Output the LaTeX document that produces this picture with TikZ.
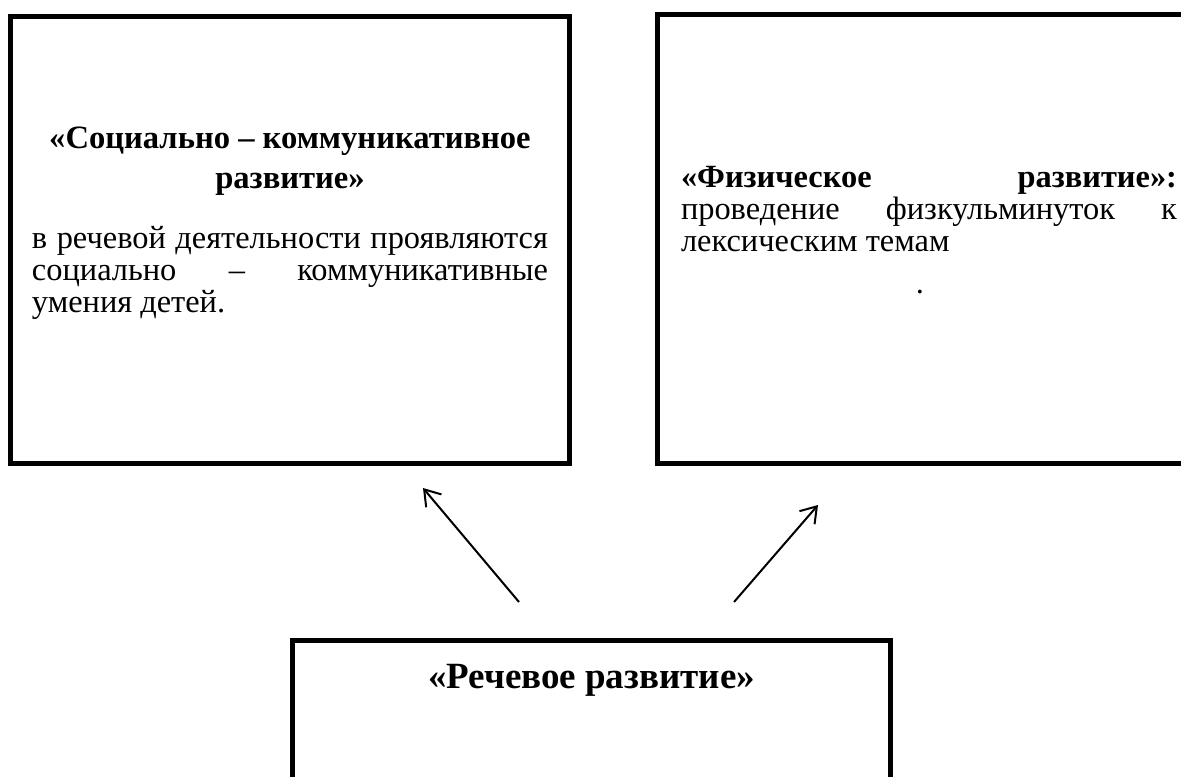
\documentclass[tikz,border=0pt]{standalone}
\usepackage{fontspec}
\setmainfont{Liberation Serif}
\usepackage{tikz}
\usetikzlibrary{arrows.meta}

\begin{document}
\begin{tikzpicture}[x=0.5pt, y=-0.5pt,
    box/.style={draw, line width=2.5pt, rectangle, inner sep=0pt},
    headtext/.style={font=\fontsize{16.3pt}{20pt}\selectfont\bfseries, align=center, inner sep=0pt},
    bodytext/.style={font=\fontsize{16.2pt}{16pt}\selectfont, align=justify, inner sep=0pt},
    link/.style={line width=1pt, -{Straight Barb[length=7.5pt, width=10pt, line width=1pt]}}]
      \useasboundingbox (0, 0) rectangle (1181, 776);

      \node[box, minimum width=279.5pt, minimum height=223.5pt] (soc) at (290, 240) {};
      \node[box, minimum width=274pt, minimum height=224.5pt] (fiz) at (931, 239) {};
      \node[box, minimum width=299pt, minimum height=130pt] (rech) at (591.5, 770) {};

      \node[headtext, anchor=north] (soctitle) at (290, 127) {«Социально – коммуникативное\\развитие»};
      \node[bodytext, text width=258pt, anchor=north] (socbody) at (290, 226)
        {в речевой деятельности проявляются\linebreak социально – коммуникативные\linebreak умения детей.};

      \node[bodytext, text width=248pt, anchor=north] (fizbody) at (929, 166)
        {\textbf{«Физическое развитие»:}\linebreak проведение физкульминуток к\linebreak лексическим темам};
      \node[bodytext, anchor=north] (fizdot) at (920, 290) {.};

      \node[headtext, font=\fontsize{18.5pt}{20pt}\selectfont\bfseries, anchor=north] (rechtitle) at (591.5, 664) {«Речевое развитие»};

      \coordinate (socfrom) at (519, 602);
      \coordinate (socto) at (423, 488);
      \coordinate (fizfrom) at (734, 602);
      \coordinate (fizto) at (818, 505);

      \draw[link] (socfrom) -- (socto);
      \draw[link] (fizfrom) -- (fizto);
    \end{tikzpicture}
\end{document}
